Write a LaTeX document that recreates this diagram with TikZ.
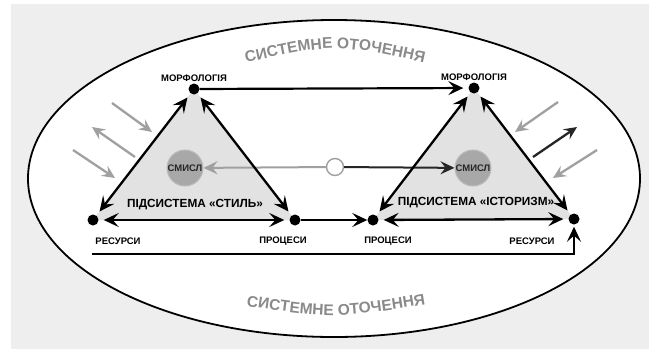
\documentclass[tikz,border=0pt]{standalone}
\usepackage{fontspec}
\setmainfont{Liberation Sans}
\usepackage{xcolor}
\usetikzlibrary{arrows.meta,positioning,decorations.text}

\definecolor{bggray}{HTML}{EEEEEE}
\definecolor{trifill}{HTML}{E2E2E2}
\definecolor{sensefill}{HTML}{A8A8A8}
\definecolor{senseline}{HTML}{BBBBBB}
\definecolor{envgray}{HTML}{8A8A8A}
\definecolor{flowgray}{HTML}{A0A0A0}

\newcommand{\envfont}{\fontsize{15.5}{17}\selectfont\bfseries}

\tikzset{
  dot/.style={circle, fill=black, inner sep=0pt, minimum size=11pt},
  lbl/.style={inner sep=0pt, font=\fontsize{9.5}{11}\selectfont\bfseries},
  title/.style={inner sep=0pt, font=\fontsize{11.8}{14}\selectfont\bfseries},
  sense/.style={circle, draw=senseline, line width=1pt, fill=sensefill, minimum size=36pt,
    inner sep=0pt, text=black!85, font=\fontsize{9.5}{11}\selectfont\bfseries},
  tip/.tip={Stealth[length=15pt, width=14pt, inset=6pt]},
  both/.style={line width=2.3pt, tip-tip, shorten <=5pt, shorten >=5pt},
  flow/.style={line width=2.2pt, -tip},
  infl/.style={line width=2.3pt, -{Stealth[length=13pt, width=12pt, inset=5pt]}},
}

\begin{document}
\begin{tikzpicture}[x=1pt, y=-1pt]
    \useasboundingbox (0,0) rectangle (649,349);
    % background and environment
    \fill[white] (0,0) rectangle (649,349);
    \fill[bggray] (11,4) rectangle (649,349);
    \draw[line width=1.8pt, fill=white] (334,178.5) ellipse [x radius=306, y radius=158.5];

    \path[decorate, decoration={text along path, text align=center, text color=envgray,
        text={|\envfont|СИСТЕМНЕ ОТОЧЕННЯ}}] (236,65) .. controls (335,43) .. (434,65);
    \path[decorate, decoration={text along path, text align=center, text color=envgray,
        text={|\envfont|СИСТЕМНЕ ОТОЧЕННЯ}}] (238,305) .. controls (335,319) .. (434,303);

    % vertices
    \coordinate (m1) at (194,89);
    \coordinate (r1) at (93,220);
    \coordinate (p1) at (295,220);
    \coordinate (m2) at (474,88);
    \coordinate (p2) at (373,220);
    \coordinate (r2) at (574,219);

    % triangles
    \fill[trifill] (m1) -- (r1) -- (p1) -- cycle;
    \fill[trifill] (m2) -- (p2) -- (r2) -- cycle;

    \node[dot] (M1) at (m1) {};
    \node[dot] (R1) at (r1) {};
    \node[dot] (P1) at (p1) {};
    \node[dot] (M2) at (m2) {};
    \node[dot] (P2) at (p2) {};
    \node[dot] (R2) at (r2) {};

    % meaning
    \node[sense] (S1) at (185,168) {СМИСЛ};
    \node[sense] (S2) at (473,168) {СМИСЛ};
    \node[circle, draw=flowgray, line width=1.4pt, fill=white, minimum size=17pt, inner sep=0pt] (O) at (335,167) {};
    \draw[line width=2pt, flowgray, -{Stealth[length=14pt, width=13pt, inset=5pt]}] (O) -- (S1);
    \draw[line width=2pt, black!85, -{Stealth[length=14pt, width=13pt, inset=5pt]}] (O) -- (S2);

    % labels
    \node[lbl, above=2pt of M1] (m1lbl) {МОРФОЛОГІЯ};
    \node[lbl, above=2pt of M2] (m2lbl) {МОРФОЛОГІЯ};
    \node[lbl] (r1lbl) at (118,241) {РЕСУРСИ};
    \node[lbl] (p1lbl) at (283,241) {ПРОЦЕСИ};
    \node[lbl] (p2lbl) at (388,241) {ПРОЦЕСИ};
    \node[lbl] (r2lbl) at (532,241) {РЕСУРСИ};
    \node[title] (t1) at (195,205) {ПІДСИСТЕМА «СТИЛЬ»};
    \node[title] (t2) at (476,203) {ПІДСИСТЕМА «ІСТОРИЗМ»};

    % edges of the triangles
    \draw[both] (M1) -- (R1);
    \draw[both] (M1) -- (P1);
    \draw[both] (R1) -- (P1);
    \draw[both] (M2) -- (P2);
    \draw[both] (M2) -- (R2);
    \draw[both] (P2) -- (R2);

    % links between the subsystems
    \draw[flow, shorten >=5pt] (M1) -- (M2);
    \draw[flow] (P1) -- (P2);
    \coordinate (back) at (92,254);
    \draw[flow, shorten >=2pt] (back) -| (R2);

    % influences of the environment
    \draw[infl, flowgray] (112,103) -- (152,132);
    \draw[infl, flowgray] (135,157) -- (92,127);
    \draw[infl, flowgray] (73,150) -- (115,178);
    \draw[infl, flowgray] (558,102) -- (515,132);
    \draw[infl, black!85] (533,157) -- (577,127);
    \draw[infl, flowgray] (597,150) -- (553,178);
\end{tikzpicture}
\end{document}
